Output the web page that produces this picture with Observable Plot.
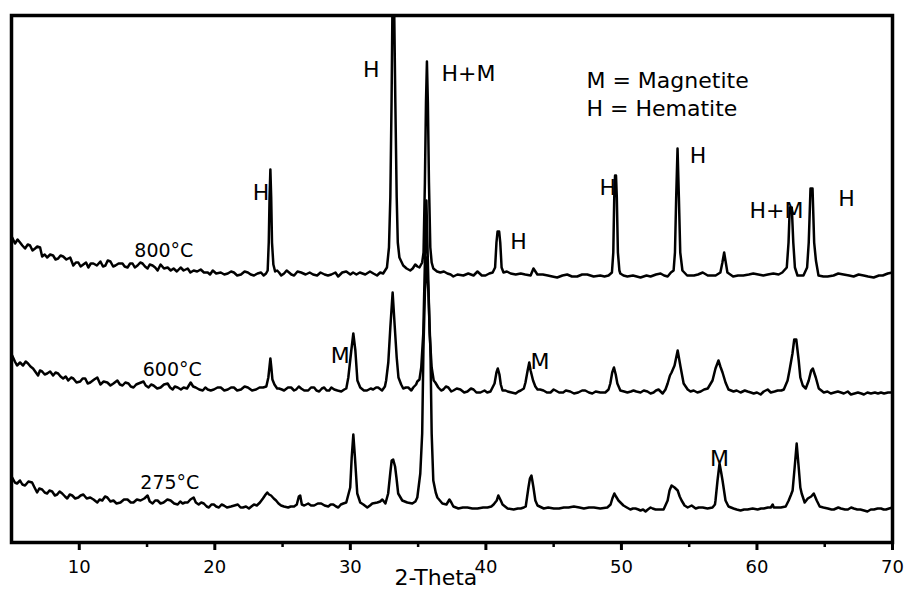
<!DOCTYPE html>
<html>
<head>
<meta charset="utf-8">
<script src="https://cdn.jsdelivr.net/npm/d3@7"></script>
<script src="https://cdn.jsdelivr.net/npm/@observablehq/plot@0.6"></script>
<style>
  html, body { margin: 0; padding: 0; background: #fff; }
  #chart svg { display: block; }
  #chart [aria-label="x-axis tick"], #chart [aria-label="x-axis"] line { stroke-width: 3px; }
</style>
</head>
<body>
<div id="chart"></div>
<script>
// ---- data: [2-theta (deg), intensity (a.u., traces already stacked)] ----
const xrd800 = [
[5.05,305],[5.26,299],[5.45,303],[5.63,300],[5.8,297],[6.0,294],[6.2,298],[6.37,297],[6.55,292],[6.74,294],[6.9,296],[7.11,295],[7.26,286],[7.45,288],[7.63,285],[7.85,288],[8.07,287],[8.25,283],[8.44,284],[8.62,287],[8.81,286],[9.05,283],[9.33,285],[9.56,277],[9.75,280],[9.93,280],[10.1,276],[10.3,278],[10.5,280],[10.67,275],[10.85,279],[11.04,279],[11.3,277],[11.56,281],[11.75,276],[11.93,277],[12.1,282],[12.3,281],[12.5,276],[12.67,277],[12.9,279],[13.19,279],[13.35,276],[13.56,275],[13.75,279],[13.93,279],[14.1,275],[14.3,277],[14.5,280],[14.67,279],[14.85,276],[15.04,274],[15.2,278],[15.41,277],[15.6,275],[15.78,272],[16.0,278],[16.25,274],[16.52,275],[16.75,272],[16.96,274],[17.2,271],[17.48,275],[17.7,272],[18.0,274],[18.2,270],[18.44,272],[18.7,271],[18.96,273],[19.2,270],[19.48,270],[19.65,268],[19.85,272],[20.1,269],[20.44,270],[20.7,268],[20.96,269],[21.2,271],[21.41,270],[21.65,267],[21.93,268],[22.2,271],[22.44,270],[22.65,268],[22.89,267],[23.15,269],[23.41,270],[23.6,267],[23.78,269],
[23.9,272],[23.98,300],[24.04,345],[24.1,373],[24.16,345],[24.22,300],[24.32,278],[24.45,271],[24.6,272],[24.74,270],[24.9,267],[25.11,269],[25.3,272],[25.48,270],[25.65,268],[25.85,267],[26.1,271],[26.37,270],
[26.7,268],[27.0,270],[27.25,268],[27.55,267],[27.8,270],[28.1,268],[28.35,267],[28.6,268],[28.9,270],[29.1,266],[29.4,270],[29.7,271],
[30.0,268],[30.2,270],[30.45,268],[30.7,270],[31.1,268],[31.45,271],[31.7,269],[31.97,267],[32.2,270],[32.42,269],[32.7,275],
[32.85,295],[32.95,345],[33.04,440],[33.1,527],[33.24,527],[33.32,440],[33.42,345],[33.5,300],[33.62,285],[33.9,277],[34.15,274],[34.42,272],[34.6,274],[34.79,278],[34.95,276],[35.1,275],[35.3,280],
[35.4,290],[35.5,360],[35.58,440],[35.65,481],[35.72,440],[35.8,360],[35.9,295],[36.0,280],[36.12,274],[36.4,271],[36.64,270],[36.9,271],[37.16,269],[37.4,268],[37.6,266],[37.9,268],[38.34,267],[38.7,269],[39.09,267],[39.38,271],[39.7,267],[39.97,267],
[40.25,269],[40.5,270],[40.68,275],[40.78,300],[40.86,311],[40.98,311],[41.06,300],[41.16,275],[41.3,270],[41.55,271],[41.83,269],[42.2,268],[42.57,269],[42.9,268],[43.3,267],
[43.51,274],[43.8,268],[44.2,268],[44.57,267],[44.9,266],[45.26,265],[45.65,267],[46.0,268],[46.35,266],[46.74,266],[47.1,268],[47.48,268],[47.95,266],[48.44,267],[48.75,266],[49.05,267],
[49.3,270],[49.4,290],[49.47,345],[49.53,367],[49.6,367],[49.66,345],[49.74,290],[49.85,272],[49.92,269],[50.15,267],[50.44,266],[50.85,267],[51.41,265],[51.85,267],[52.15,266],[52.55,268],[52.89,269],[53.15,267],[53.41,266],[53.65,270],[53.85,272],
[53.95,290],[54.04,345],[54.14,394],[54.24,345],[54.34,290],[54.5,272],[54.85,267],[55.35,267],[55.65,268],[56.0,270],[56.37,267],[56.95,267],[57.3,270],
[57.45,280],[57.58,290],[57.7,280],[57.82,270],[58.24,266],[58.6,267],[58.99,267],[59.4,268],[59.73,269],[60.1,268],[60.47,267],[60.8,268],[61.21,269],[61.6,268],[61.87,270],[62.2,275],
[62.33,300],[62.42,335],[62.57,335],[62.68,300],[62.8,275],[62.99,267],[63.43,267],[63.7,275],
[63.82,300],[63.95,354],[64.1,354],[64.22,300],[64.35,282],[64.54,267],[64.9,266],[65.21,266],[65.65,267],[66.0,269],[66.39,268],[66.8,267],[67.13,266],[67.5,268],[67.87,267],[68.2,266],[68.61,265],[69.0,267],[69.28,267],[69.65,269],[70,270]
];

const xrd600 = [
[5.05,187],[5.25,181],[5.41,177],[5.63,180],[5.85,177],[6.05,181],[6.22,179],[6.4,176],[6.59,174],[6.8,170],[6.96,167],[7.1,172],[7.26,171],[7.45,168],[7.63,169],[7.85,171],[8.07,167],[8.25,170],[8.44,169],[8.62,166],[8.81,164],[9.0,166],[9.19,162],[9.4,165],[9.56,164],[9.8,160],[10.07,161],[10.25,164],[10.44,164],[10.62,159],[10.81,160],[11.1,163],[11.33,165],[11.56,158],[11.8,161],[12.07,160],[12.3,157],[12.52,159],[12.81,162],[13.0,158],[13.19,157],[13.4,160],[13.63,159],[13.8,156],[14.0,155],[14.2,158],[14.37,159],[14.74,161],[14.9,157],[15.11,155],[15.3,158],[15.48,157],[15.75,154],[16.0,155],[16.25,158],[16.52,159],[16.7,155],[16.89,153],[17.05,156],[17.26,155],[17.5,153],[17.7,155],[17.95,154],[18.22,160],[18.4,156],[18.59,155],[18.85,153],[19.11,152],[19.3,155],[19.48,153],[19.7,152],[19.93,153],[20.2,155],[20.44,155],[20.7,152],[20.96,153],[21.2,155],[21.41,155],[21.65,152],[21.93,153],[22.2,156],[22.44,155],[22.75,152],[23.04,153],[23.3,155],[23.56,155],[23.8,156],
[23.95,165],[24.03,175],[24.1,184],[24.17,175],[24.25,163],[24.4,158],[24.6,154],[24.74,154],[24.95,153],[25.11,152],[25.4,155],[25.63,155],[25.85,152],[26.0,153],[26.2,156],[26.37,154],[26.6,152],[26.89,152],[27.1,155],[27.33,155],[27.5,152],[27.7,151],[27.9,154],[28.07,155],[28.25,152],[28.44,152],[28.6,155],[28.81,153],[29.05,152],[29.33,151],[29.55,153],
[29.7,154],[29.85,165],[30.07,192],[30.22,209],[30.37,192],[30.52,162],[30.73,155],[31.0,152],[31.23,152],[31.5,154],[31.68,153],[31.9,155],[32.05,155],[32.34,152],
[32.55,156],[32.64,162],[32.8,180],[32.95,215],[33.12,250],[33.28,215],[33.42,185],[33.55,165],[33.75,158],[33.9,154],[34.1,155],[34.27,155],[34.5,152],[34.64,155],[34.85,158],[34.94,161],
[35.1,163],[35.23,175],[35.38,209],[35.5,280],[35.61,342],[35.72,280],[35.85,209],[36.0,175],[36.15,162],[36.27,160],[36.49,155],[36.7,152],[36.86,153],[37.05,156],[37.23,155],[37.45,151],[37.6,152],[37.85,154],[38.12,153],[38.4,150],[38.64,151],[38.9,154],[39.09,153],[39.3,150],[39.6,150],[39.9,152],[40.1,150],[40.34,151],
[40.64,159],[40.78,170],[40.88,174],[41.0,168],[41.1,158],[41.23,152],[41.45,152],[41.6,151],[41.9,150],[42.2,149],[42.4,151],[42.57,152],[42.8,154],
[42.92,160],[43.08,172],[43.2,180],[43.3,172],[43.48,162],[43.65,156],[43.81,153],[44.0,153],[44.25,152],[44.5,150],[44.77,150],[45.0,153],[45.14,152],[45.4,150],[45.7,150],[45.9,152],[46.22,151],[46.5,149],[46.81,150],[47.1,152],[47.33,152],[47.6,150],[47.85,149],[48.1,151],[48.44,150],[48.81,150],
[49.05,153],[49.18,159],[49.32,170],[49.45,175],[49.58,168],[49.7,159],[49.92,152],[50.2,151],[50.44,150],[50.7,151],[50.89,152],[51.1,151],[51.41,150],[51.65,152],[51.92,151],[52.15,149],[52.37,150],[52.55,152],[52.74,153],[53.04,149],
[53.25,153],[53.41,159],[53.58,167],[53.7,170],[53.92,177],[54.15,192],[54.37,175],[54.59,159],[54.89,153],[55.1,151],[55.33,152],[55.6,150],[55.85,151],[56.1,153],[56.37,154],
[56.72,162],[56.94,174],[57.16,182],[57.3,176],[57.46,170],[57.68,160],[57.9,153],[58.27,151],[58.5,152],[58.79,150],[59.1,152],[59.31,151],[59.55,150],[59.76,149],[60.0,150],[60.27,148],[60.5,151],[60.79,153],[61.02,150],[61.3,151],[61.53,152],[61.8,152],[61.98,153],
[62.26,162],[62.4,172],[62.49,179],[62.62,189],[62.75,203],[62.9,203],[63.08,182],[63.2,165],[63.38,157],[63.6,154],
[63.82,162],[64.0,172],[64.12,174],[64.34,165],[64.56,154],[64.75,152],[64.93,150],[65.2,151],[65.45,149],[65.7,150],[65.97,151],[66.2,150],[66.41,149],[66.7,151],[66.93,148],[67.2,149],[67.45,150],[67.7,149],[67.89,148],[68.15,150],[68.41,149],[68.7,150],[68.93,149],[69.15,150],[69.38,149],[69.67,150],[70,150]
];

const xrd275 = [
[5.05,65],[5.25,60],[5.41,59],[5.63,62],[5.8,58],[6.0,57],[6.25,61],[6.52,60],[6.7,55],[6.89,50],[7.05,54],[7.26,53],[7.45,50],[7.63,49],[7.8,52],[8.0,51],[8.2,47],[8.37,48],[8.55,51],[8.74,49],[8.95,46],[9.11,44],[9.3,48],[9.48,47],[9.7,44],[9.93,45],[10.1,47],[10.3,48],[10.55,44],[10.81,45],[11.05,43],[11.33,40],[11.5,43],[11.7,42],[11.9,46],[12.07,45],[12.3,41],[12.52,42],[12.75,39],[13.04,40],[13.3,43],[13.56,43],[13.8,40],[14.0,40],[14.25,43],[14.52,42],[14.8,44],[15.04,47],[15.2,41],[15.41,39],[15.6,42],[15.78,42],[16.0,39],[16.22,40],[16.5,43],[16.74,42],[17.0,39],[17.26,38],[17.45,41],[17.63,39],[17.8,40],[18.0,40],[18.2,43],[18.44,45],[18.6,40],[18.81,38],[19.0,40],[19.19,39],[19.4,36],[19.56,35],[19.75,38],[19.93,38],[20.1,36],[20.3,35],[20.5,38],[20.67,37],[20.9,35],[21.19,36],[21.45,37],[21.7,38],[21.9,35],[22.07,35],[22.3,36],[22.52,34],[22.7,36],[22.89,38],[23.1,37],[23.33,40],[23.55,44],
[23.75,48],[23.87,50],[24.0,48],[24.15,47],[24.35,44],[24.52,42],[24.7,39],[24.89,37],[25.1,36],[25.41,35],[25.6,36],[25.85,36],[26.05,38],[26.2,46],[26.3,47],[26.42,38],[26.6,37],[26.89,39],[27.1,37],[27.33,37],[27.6,39],[27.85,39],[28.1,37],[28.37,36],[28.55,38],[28.74,38],[28.95,36],[29.11,35],[29.3,38],[29.48,39],[29.7,40],
[29.99,55],[30.1,85],[30.22,108],[30.34,85],[30.51,49],[30.73,40],[30.96,38],[31.25,35],[31.45,37],[31.62,39],[31.99,40],[32.2,41],[32.36,43],[32.59,39],
[32.79,49],[32.95,70],[33.05,82],[33.16,83],[33.3,76],[33.4,65],[33.53,49],[33.83,42],[34.2,40],[34.57,39],[34.8,41],[34.94,45],
[35.16,69],[35.3,109],[35.39,192],[35.5,250],[35.63,285],[35.76,250],[35.91,192],[36.0,109],[36.12,62],[36.3,50],[36.42,45],[36.79,39],[37.09,38],[37.31,43],[37.45,40],[37.6,36],[37.97,34],[38.3,35],[38.64,35],[39.0,34],[39.38,34],[39.8,35],[40.12,35],[40.4,36],[40.57,38],
[40.8,42],[40.92,47],[41.1,42],[41.23,38],[41.6,34],[42.05,33],[42.35,34],[42.57,34],[42.8,35],[42.94,36],
[43.14,55],[43.25,64],[43.36,67],[43.45,60],[43.51,55],[43.65,42],[43.81,37],[44.27,34],[44.6,35],[45.01,34],[45.4,34],[45.75,35],[46.1,35],[46.49,36],[46.9,35],[47.23,34],[47.6,35],[47.97,35],[48.44,34],[48.96,35],
[49.2,38],[49.33,44],[49.48,49],[49.6,46],[49.78,42],[50.15,37],[50.4,35],[50.66,33],[50.85,34],[51.04,34],[51.25,33],[51.41,32],[51.6,33],[51.78,31],[51.95,33],[52.15,35],[52.3,34],[52.52,33],[52.8,33],[53.11,33],
[53.41,42],[53.55,52],[53.7,57],[53.92,55],[54.15,52],[54.3,46],[54.44,42],[54.66,37],[54.89,35],[55.18,37],[55.48,34],[55.7,35],[56.0,35],[56.35,34],[56.72,35],[56.9,38],
[56.94,42],[57.09,62],[57.24,79],[57.36,70],[57.46,62],[57.68,42],[57.9,36],[58.27,34],[58.5,33],[58.79,32],[59.05,33],[59.31,33],[59.68,34],[60.05,33],[60.3,34],[60.5,34],[60.8,35],[61.02,35],[61.16,38],[61.24,35],[61.5,35],[61.76,35],[62.12,36],
[62.34,42],[62.52,48],[62.63,52],[62.78,75],[62.93,99],[63.08,75],[63.2,55],[63.3,49],[63.52,40],[63.75,44],
[64.0,46],[64.19,49],[64.41,42],[64.63,36],[64.9,35],[65.23,34],[65.5,33],[65.67,33],[66.0,35],[66.19,34],[66.5,33],[66.71,33],[66.95,35],[67.15,34],[67.4,33],[67.63,33],[67.9,32],[68.15,31],[68.4,33],[68.63,33],[68.9,34],[69.15,34],[69.35,33],[69.52,33],[69.75,34],[70,35]
];

const seriesNames = ["800°C", "600°C", "275°C"];
const xTicks = [10, 20, 30, 40, 50, 60, 70];
const xMinorTicks = [15, 25, 35, 45, 55, 65];
const xLabel = "2-Theta";

// annotations: phase markers, temperature labels, legend text
const phaseLabels = [
  {x: 23.41, y: 349.5, text: "H"},
  {x: 31.55, y: 472.5, text: "H"},
  {x: 38.71, y: 469, text: "H+M"},
  {x: 42.4, y: 300.5, text: "H"},
  {x: 49.0, y: 355, text: "H"},
  {x: 55.65, y: 387, text: "H"},
  {x: 61.44, y: 332, text: "H+M"},
  {x: 66.61, y: 344, text: "H"},
  {x: 29.26, y: 187, text: "M"},
  {x: 43.99, y: 180.5, text: "M"},
  {x: 57.23, y: 83.5, text: "M"}
];
const tempLabels = [
  {x: 16.24, y: 292, text: seriesNames[0]},
  {x: 16.86, y: 172.5, text: seriesNames[1]},
  {x: 16.68, y: 59.5, text: seriesNames[2]}
];
const keyLines = [
  {x: 47.42, y: 462, text: "M = Magnetite"},
  {x: 47.42, y: 434, text: "H = Hematite"}
];
const xLabelPos = [{x: 36.31, y: -35.5, text: xLabel}];

const traces = [xrd800, xrd600, xrd275];
const rows = traces.flatMap((pts, i) =>
  pts.map(([theta, intensity]) => ({series: seriesNames[i], theta, intensity})));

const chart = Plot.plot({
  width: 906,
  height: 590,
  marginLeft: 11,
  marginRight: 14,
  marginTop: 15,
  marginBottom: 48,
  style: {fontFamily: "DejaVu Sans", fontSize: "18px", color: "#000", background: "#fff"},
  x: {domain: [5, 70], ticks: xTicks, tickSize: 8, tickPadding: 10, tickFormat: d => String(d), label: null},
  y: {domain: [0, 527], axis: null},
  marks: [
    Plot.line(rows, {x: "theta", y: "intensity", z: "series", stroke: "#000", strokeWidth: 2.5, strokeLinejoin: "round"}),
    Plot.ruleX(xMinorTicks, {x: d => d, y1: 0, y2: -5, stroke: "#000", strokeWidth: 2.5}),
    Plot.text(phaseLabels, {x: "x", y: "y", text: "text", fontSize: 22, fill: "#000"}),
    Plot.text(tempLabels, {x: "x", y: "y", text: "text", fontSize: 19, fill: "#000"}),
    Plot.text(keyLines, {x: "x", y: "y", text: "text", fontSize: 22, textAnchor: "start", fill: "#000"}),
    Plot.text(xLabelPos, {x: "x", y: "y", text: "text", fontSize: 22, fill: "#000"}),
    Plot.frame({stroke: "#000", strokeWidth: 3.5})
  ]
});
chart.querySelectorAll('g[aria-label*="x-axis"]').forEach(g => {
  g.setAttribute("font-size", "18");
  g.style.fontSize = "18px";
});
document.getElementById("chart").appendChild(chart);
</script>
</body>
</html>
